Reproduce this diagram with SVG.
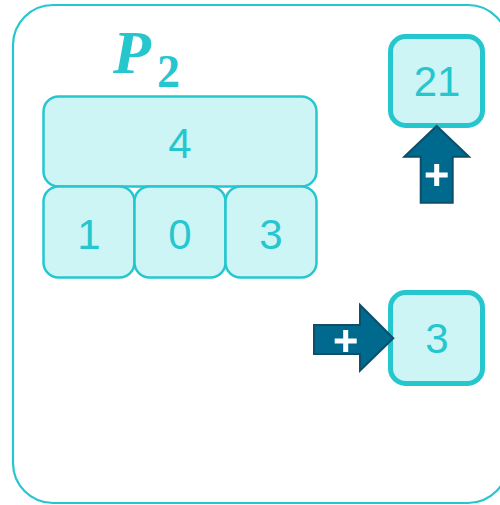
<svg xmlns="http://www.w3.org/2000/svg" width="500" height="505" viewBox="0 0 500 505">
<style>
.frame{fill:#ffffff;stroke:#26c6cf;stroke-width:2.2}
.cell{fill:#cdf5f5;stroke:#26c6cf;stroke-width:2.5}
.res{fill:#cdf5f5;stroke:#26c6cf;stroke-width:5}
.num{font-family:"Liberation Sans",Arial,sans-serif;font-size:42px;fill:#26c6cf;text-anchor:middle}
.arrow{fill:#006a8e;stroke:#0d4f6b;stroke-width:2;stroke-linejoin:miter}
.plus{stroke:#ffffff;stroke-width:5;fill:none}
.title{font-family:"Liberation Serif","Times New Roman",serif;font-weight:bold;fill:#26c6cf}
</style>
<rect class="frame" x="13" y="5" width="495" height="498" rx="40"/>
<text class="title" x="113" y="73" font-size="62" font-style="italic">P</text>
<text class="title" x="157" y="87" font-size="46">2</text>
<g id="node-4">
<rect class="cell" x="43.5" y="96.5" width="273" height="90" rx="15"/>
<text class="num" x="180" y="158">4</text>
</g>
<g id="node-1">
<rect class="cell" x="43.5" y="186.5" width="91" height="91" rx="15"/>
<text class="num" x="89" y="249">1</text>
</g>
<g id="node-0">
<rect class="cell" x="134.5" y="186.5" width="91" height="91" rx="15"/>
<text class="num" x="180" y="249">0</text>
</g>
<g id="node-3a">
<rect class="cell" x="225.5" y="186.5" width="91" height="91" rx="15"/>
<text class="num" x="271" y="249">3</text>
</g>
<g id="node-21">
<rect class="res" x="390.5" y="36.5" width="92" height="89" rx="15"/>
<text class="num" x="437" y="96">21</text>
</g>
<g id="node-3b">
<rect class="res" x="390.5" y="292.5" width="92" height="91" rx="15"/>
<text class="num" x="437" y="353">3</text>
</g>
<g id="connectors">
<polygon class="arrow" points="436.7,126 469,156.7 452.7,156.7 452.7,202.7 420.7,202.7 420.7,156.7 404.3,156.7"/>
<path class="plus" d="M425.7,175 H447.7 M436.7,164 V186"/>
<polygon class="arrow" points="393.3,338.3 360,305 360,325 314,325 314,354 360,354 360,370.7"/>
<path class="plus" d="M334.7,341 H356.7 M345.7,330 V352"/>
</g>
</svg>
